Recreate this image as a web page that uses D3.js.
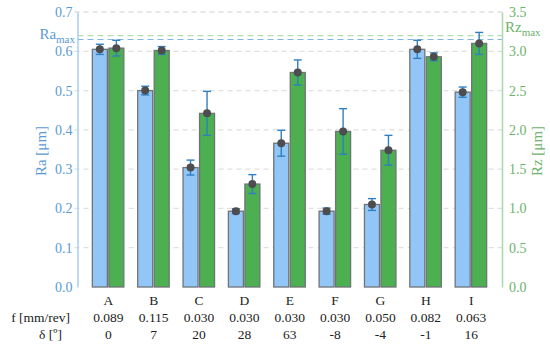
<!DOCTYPE html>
<html>
<head>
<meta charset="utf-8">
<script src="https://cdn.jsdelivr.net/npm/d3@7"></script>
<style>
  body { margin: 0; background: #fff; }
  svg text { font-family: "Liberation Serif", "Times New Roman", serif !important; }
</style>
</head>
<body>
<div id="chart"></div>
<script>
// data
var labels = ["A", "B", "C", "D", "E", "F", "G", "H", "I"];
var feed = ["0.089", "0.115", "0.030", "0.030", "0.030", "0.030", "0.050", "0.082", "0.063"];
var delta = ["0", "7", "20", "28", "63", "-8", "-4", "-1", "16"];
var ra = [0.605, 0.500, 0.304, 0.193, 0.366, 0.193, 0.210, 0.605, 0.496];
var raErr = [0.013, 0.011, 0.019, 0.006, 0.033, 0.008, 0.015, 0.023, 0.013];
var rz = [3.04, 3.01, 2.21, 1.31, 2.73, 1.98, 1.74, 2.93, 3.10];
var rzErr = [0.10, 0.05, 0.28, 0.12, 0.16, 0.29, 0.19, 0.05, 0.14];
var raTicks = [0.0, 0.1, 0.2, 0.3, 0.4, 0.5, 0.6, 0.7];
var rzTicks = [0.0, 0.5, 1.0, 1.5, 2.0, 2.5, 3.0, 3.5];
var raMax = 0.63;
var rzMax = 3.2;

var width = 550, height = 347;
var plotLeft = 77.5, plotRight = 502, plotTop = 12, plotBottom = 287;

var svg = d3.select("#chart")
    .append("svg")
    .attr("width", width)
    .attr("height", height)
    .attr("font-family", "Liberation Serif");

var x = d3.scalePoint()
    .domain(labels)
    .range([plotLeft, plotRight])
    .padding(0.68);

var yRa = d3.scaleLinear().domain([0, 0.7]).range([plotBottom, plotTop]);
var yRz = d3.scaleLinear().domain([0, 3.5]).range([plotBottom, plotTop]);

var blueText = "#5b9bd5", greenText = "#6cb36c";

// grid
svg.selectAll("grid")
    .data(raTicks.slice(1))
    .enter().append("line")
    .attr("x1", plotLeft - 3).attr("x2", plotRight)
    .attr("y1", function (d) { return yRa(d); })
    .attr("y2", function (d) { return yRa(d); })
    .attr("stroke", "#e0e0e0")
    .attr("stroke-width", 1.3)
    .attr("stroke-dasharray", "5,4");

// limit lines
svg.append("line")
    .attr("x1", plotLeft).attr("x2", plotRight)
    .attr("y1", yRz(rzMax)).attr("y2", yRz(rzMax))
    .attr("stroke", "#b3e0b3").attr("stroke-width", 1.2)
    .attr("stroke-dasharray", "6,4");
svg.append("line")
    .attr("x1", plotLeft).attr("x2", plotRight)
    .attr("y1", yRa(raMax)).attr("y2", yRa(raMax))
    .attr("stroke", "#7fb6e6").attr("stroke-width", 1.2)
    .attr("stroke-dasharray", "6,4");

// axes
var axL = svg.append("g")
    .attr("transform", "translate(" + plotLeft + ",0)")
    .call(d3.axisLeft(yRa).tickValues(raTicks).tickFormat(d3.format(".1f")).tickSize(0).tickPadding(5));
axL.attr("font-family", "Liberation Serif");
axL.select(".domain").attr("stroke", "#a9cff2").attr("stroke-width", 1.5);
axL.selectAll("text").attr("fill", blueText).attr("font-size", 14);

var axR = svg.append("g")
    .attr("transform", "translate(" + plotRight + ",0)")
    .call(d3.axisRight(yRz).tickValues(rzTicks).tickFormat(d3.format(".1f")).tickSize(0).tickPadding(7));
axR.attr("font-family", "Liberation Serif");
axR.select(".domain").attr("stroke", "#a9d8a9").attr("stroke-width", 1.5);
axR.selectAll("text").attr("fill", greenText).attr("font-size", 14);

// bars
var bw = 15;
svg.selectAll("rabar")
    .data(labels)
    .enter().append("rect")
    .attr("x", function (d) { return x(d) - bw - 1; })
    .attr("y", function (d, i) { return yRa(ra[i]); })
    .attr("width", bw)
    .attr("height", function (d, i) { return plotBottom - yRa(ra[i]); })
    .attr("fill", "#92c6f7")
    .attr("stroke", "#6f7478")
    .attr("stroke-width", 1.3);

svg.selectAll("rzbar")
    .data(labels)
    .enter().append("rect")
    .attr("x", function (d) { return x(d) + 0.5; })
    .attr("y", function (d, i) { return yRz(rz[i]); })
    .attr("width", bw)
    .attr("height", function (d, i) { return plotBottom - yRz(rz[i]); })
    .attr("fill", "#4caf50")
    .attr("stroke", "#6f7478")
    .attr("stroke-width", 1.3);

// error bars
function errBars(cx, val, err, y) {
    var g = svg.append("g").attr("stroke", "#2f7fc1").attr("stroke-width", 1.4);
    labels.forEach(function (d, i) {
        var c = cx(d);
        g.append("line").attr("x1", c).attr("x2", c)
            .attr("y1", y(val[i] - err[i])).attr("y2", y(val[i] + err[i]));
        g.append("line").attr("x1", c - 4).attr("x2", c + 4)
            .attr("y1", y(val[i] - err[i])).attr("y2", y(val[i] - err[i]));
        g.append("line").attr("x1", c - 4).attr("x2", c + 4)
            .attr("y1", y(val[i] + err[i])).attr("y2", y(val[i] + err[i]));
    });
}
var raX = function (d) { return x(d) - bw / 2 - 1; };
var rzX = function (d) { return x(d) + bw / 2 + 0.5; };
errBars(raX, ra, raErr, yRa);
errBars(rzX, rz, rzErr, yRz);

// points
svg.selectAll("radot")
    .data(labels)
    .enter().append("circle")
    .attr("cx", raX)
    .attr("cy", function (d, i) { return yRa(ra[i]); })
    .attr("r", 4)
    .attr("fill", "#4d4d4f");
svg.selectAll("rzdot")
    .data(labels)
    .enter().append("circle")
    .attr("cx", rzX)
    .attr("cy", function (d, i) { return yRz(rz[i]); })
    .attr("r", 4)
    .attr("fill", "#4d4d4f");

// limit labels
var tRa = svg.append("text")
    .attr("x", 75).attr("y", 39)
    .attr("text-anchor", "end")
    .attr("fill", blueText)
    .attr("font-size", 15);
tRa.append("tspan").text("Ra");
tRa.append("tspan").attr("dy", 4).attr("font-size", 11).text("max");

var tRz = svg.append("text")
    .attr("x", 505).attr("y", 32)
    .attr("fill", greenText)
    .attr("font-size", 15);
tRz.append("tspan").text("Rz");
tRz.append("tspan").attr("dy", 4).attr("font-size", 11).text("max");

// axis titles
svg.append("text")
    .attr("transform", "translate(46,151)rotate(-90)")
    .attr("text-anchor", "middle")
    .attr("fill", blueText)
    .attr("font-size", 15)
    .text("Ra [μm]");
svg.append("text")
    .attr("transform", "translate(542,151)rotate(-90)")
    .attr("text-anchor", "middle")
    .attr("fill", greenText)
    .attr("font-size", 15)
    .text("Rz [μm]");

// category rows
var rows = [labels, feed, delta];
var rowY = [305, 322, 339];
rows.forEach(function (row, r) {
    svg.selectAll("row" + r)
        .data(row)
        .enter().append("text")
        .attr("x", function (d, i) { return x(labels[i]); })
        .attr("y", rowY[r])
        .attr("text-anchor", "middle")
        .attr("fill", "#222")
        .attr("font-size", 13.5)
        .text(function (d) { return d; });
});
svg.append("text")
    .attr("x", 70).attr("y", rowY[1])
    .attr("text-anchor", "end")
    .attr("fill", "#222")
    .attr("font-size", 13.5)
    .text("f [mm/rev]");
svg.append("text")
    .attr("x", 62).attr("y", rowY[2])
    .attr("text-anchor", "end")
    .attr("fill", "#222")
    .attr("font-size", 13.5)
    .text("δ [º]");
</script>
</body>
</html>
